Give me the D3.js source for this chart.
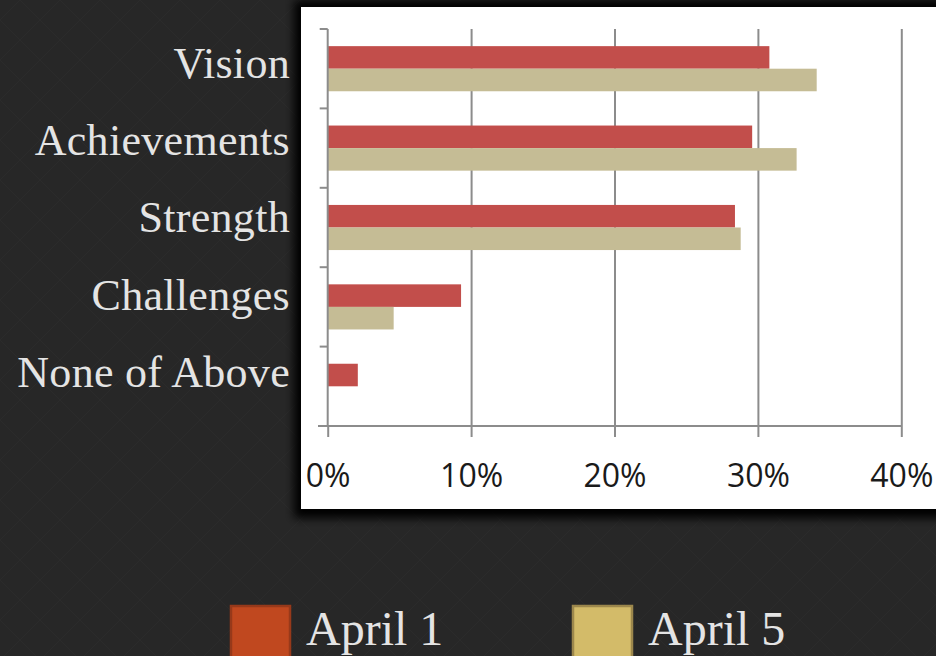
<!DOCTYPE html>
<html>
<head>
<meta charset="utf-8">
<script src="https://cdn.jsdelivr.net/npm/d3@7/dist/d3.min.js"></script>
<style>
  html, body { margin: 0; padding: 0; background: #272727; overflow: hidden; }
  svg { display: block; }
</style>
</head>
<body>
<svg id="chart" width="936" height="656"></svg>
<script>
// ---- data ----
const categories = ["Vision", "Achievements", "Strength", "Challenges", "None of Above"];
const seriesNames = ["April 1", "April 5"];
const april1 = [30.8, 29.6, 28.4, 9.3, 2.1];
const april5 = [34.1, 32.7, 28.8, 4.6, 0];
const xTicks = [0, 10, 20, 30, 40];
const xTickLabels = ["0%", "10%", "20%", "30%", "40%"];

const barColors = ["#c24e4b", "#c5bc95"];
const legendFill = ["#c0481f", "#d3bb69"];
const legendStroke = ["#97391a", "#9c874c"];

const svg = d3.select("#chart");
const W = 936, H = 656;

// background texture (subtle)
const defs = svg.append("defs");
const pat = defs.append("pattern").attr("id", "tex").attr("width", 40).attr("height", 40)
  .attr("patternUnits", "userSpaceOnUse");
pat.append("rect").attr("width", 40).attr("height", 40).attr("fill", "#272727");
pat.append("path").attr("d", "M0 20 L20 0 L40 20 L20 40 Z").attr("fill", "none")
  .attr("stroke", "#2b2b2b").attr("stroke-width", 1);
svg.append("rect").attr("width", W).attr("height", H).attr("fill", "url(#tex)");

// panel shadow
const f = defs.append("filter").attr("id", "shadow").attr("x", "-10%").attr("y", "-10%")
  .attr("width", "120%").attr("height", "120%");
f.append("feGaussianBlur").attr("stdDeviation", 5);
svg.append("rect").attr("x", 294).attr("y", 0).attr("width", 700).attr("height", 518)
  .attr("fill", "#000").attr("filter", "url(#shadow)");
svg.append("rect").attr("x", 301).attr("y", 7).attr("width", 700).attr("height", 502)
  .attr("fill", "#ffffff");

// ---- scales ----
const x = d3.scaleLinear().domain([0, 40]).range([327.7, 901.3]);
const y0 = d3.scaleBand().domain(categories).range([29, 426]).paddingInner(0).paddingOuter(0);
const y1 = d3.scaleBand().domain(seriesNames).range([0, y0.bandwidth()]).paddingInner(0).paddingOuter(0.76);

const gridColor = "#8c8c8c";

// gridlines (vertical)
const grid = svg.append("g").attr("transform", `translate(0,426)`)
  .call(d3.axisBottom(x).tickValues(xTicks.slice(1)).tickSize(-(426 - 29)).tickFormat(""));
grid.select(".domain").remove();
grid.selectAll("line").attr("stroke", gridColor).attr("stroke-width", 2);

// bars
const data = categories.map((c, i) => ({ cat: c, vals: [april1[i], april5[i]] }));
const groups = svg.append("g").selectAll("g").data(data).join("g")
  .attr("transform", d => `translate(0,${y0(d.cat)})`);
groups.selectAll("rect").data(d => d.vals.map((v, j) => ({ name: seriesNames[j], v, j })))
  .join("rect")
  .attr("x", x(0))
  .attr("y", d => y1(d.name))
  .attr("width", d => x(d.v) - x(0))
  .attr("height", y1.bandwidth())
  .attr("fill", d => barColors[d.j]);

// x axis
const xAxis = svg.append("g").attr("transform", `translate(0,426)`)
  .call(d3.axisBottom(x).tickValues(xTicks).tickSize(11).tickPadding(27)
    .tickFormat((d, i) => xTickLabels[i]));
xAxis.select(".domain").remove();
xAxis.append("line").attr("x1", 318).attr("x2", x(40)).attr("y1", 0).attr("y2", 0)
  .attr("stroke", gridColor).attr("stroke-width", 2);
xAxis.selectAll(".tick line").attr("stroke", gridColor).attr("stroke-width", 2);
xAxis.selectAll(".tick text").attr("fill", "#1a1a1a")
  .style("font-family", "'Open Sans', sans-serif").style("font-size", "32px")
  .attr("dy", "0.71em");

// y axis (line + ticks at band boundaries)
const yAxis = svg.append("g");
yAxis.append("line").attr("x1", x(0)).attr("x2", x(0)).attr("y1", 29).attr("y2", 426)
  .attr("stroke", gridColor).attr("stroke-width", 2);
const bounds = categories.map(c => y0(c));
yAxis.selectAll("line.tk").data(bounds).join("line").attr("class", "tk")
  .attr("x1", x(0) - 8).attr("x2", x(0)).attr("y1", d => d).attr("y2", d => d)
  .attr("stroke", gridColor).attr("stroke-width", 2);

// category labels (slide text)
const labelY = d3.scalePoint().domain(categories).range([77.5, 387]);
svg.append("g").selectAll("text").data(categories).join("text")
  .attr("x", 290).attr("y", d => labelY(d))
  .attr("text-anchor", "end")
  .attr("fill", "#e4e4e4")
  .style("font-family", "'Liberation Serif', serif").style("font-size", "44px")
  .style("letter-spacing", "0.3px")
  .text(d => d);

// legend
const legendX = d3.scaleOrdinal().domain(seriesNames).range([230, 572]);
const lg = svg.append("g").selectAll("g").data(seriesNames).join("g")
  .attr("transform", d => `translate(${legendX(d)},605)`);
lg.append("rect").attr("x", 1).attr("y", 1).attr("width", 59).attr("height", 62)
  .attr("fill", (d, i) => legendFill[i]).attr("stroke", (d, i) => legendStroke[i]).attr("stroke-width", 2.5);
lg.append("text").attr("x", 76).attr("y", 40)
  .attr("fill", "#e4e4e4")
  .style("font-family", "'Liberation Serif', serif").style("font-size", "48px")
  .text(d => d);
</script>
</body>
</html>
